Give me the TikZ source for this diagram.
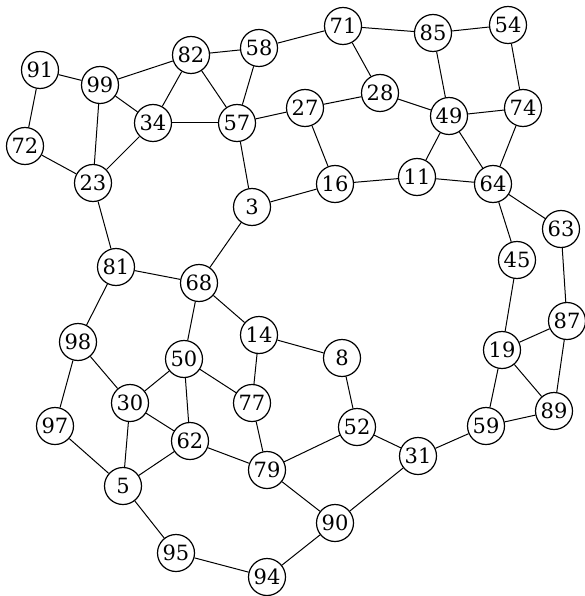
\documentclass[tikz,border=0pt]{standalone}
\usepackage{fontspec}
\newfontfamily\nodefont{DejaVu Serif}
\begin{document}
\begin{tikzpicture}[x=1pt,y=-1pt,
  vtx/.style={circle,draw,line width=1.2pt,fill=white,minimum size=37pt,inner sep=0pt,font=\nodefont\fontsize{21}{21}\selectfont},
  edge/.style={line width=1pt}]
\useasboundingbox (0,0) rectangle (585,596);
\node[vtx] (71) at (343,26) {71};
\node[vtx] (85) at (433,33) {85};
\node[vtx] (54) at (508,25) {54};
\node[vtx] (82) at (191,55) {82};
\node[vtx] (58) at (259,48) {58};
\node[vtx] (91) at (40,70) {91};
\node[vtx] (99) at (100,85) {99};
\node[vtx] (28) at (380,93) {28};
\node[vtx] (27) at (305,108) {27};
\node[vtx] (49) at (449,116) {49};
\node[vtx] (74) at (523,108) {74};
\node[vtx] (34) at (153,123) {34};
\node[vtx] (57) at (237,123) {57};
\node[vtx] (72) at (25,146) {72};
\node[vtx] (16) at (335,184) {16};
\node[vtx] (11) at (417,177) {11};
\node[vtx] (64) at (493,184) {64};
\node[vtx] (23) at (93,183) {23};
\node[vtx] (3) at (252,207) {3};
\node[vtx] (63) at (561,229) {63};
\node[vtx] (45) at (517,260) {45};
\node[vtx] (81) at (116,267) {81};
\node[vtx] (68) at (199,283) {68};
\node[vtx] (14) at (259,335) {14};
\node[vtx] (8) at (342,358) {8};
\node[vtx] (87) at (567,321) {87};
\node[vtx] (98) at (78,342) {98};
\node[vtx] (50) at (184,359) {50};
\node[vtx] (19) at (502,350) {19};
\node[vtx] (30) at (130,403) {30};
\node[vtx] (77) at (252,403) {77};
\node[vtx] (97) at (55,426) {97};
\node[vtx] (52) at (357,427) {52};
\node[vtx] (89) at (554,411) {89};
\node[vtx] (59) at (486,426) {59};
\node[vtx] (62) at (190,441) {62};
\node[vtx] (31) at (418,456) {31};
\node[vtx] (79) at (267,470) {79};
\node[vtx] (5) at (123,486) {5};
\node[vtx] (90) at (335,523) {90};
\node[vtx] (95) at (176,553) {95};
\node[vtx] (94) at (267,577) {94};
\foreach \a/\b in {91/99,91/72,99/82,99/34,99/23,72/23,23/34,23/81,82/58,82/34,82/57,58/57,58/71,34/57,57/27,57/3,71/85,71/28,85/54,85/49,54/74,28/27,28/49,27/16,49/74,49/11,49/64,74/64,16/3,16/11,11/64,64/63,64/45,63/87,45/19,87/19,87/89,19/89,19/59,59/89,59/31,3/68,81/68,81/98,68/14,68/50,14/8,14/77,8/52,52/79,52/31,50/30,50/77,50/62,98/30,98/97,30/62,30/5,97/5,62/5,62/79,77/79,79/90,31/90,5/95,95/94,94/90}
  \draw[edge] (\a) -- (\b);
\end{tikzpicture}
\end{document}
